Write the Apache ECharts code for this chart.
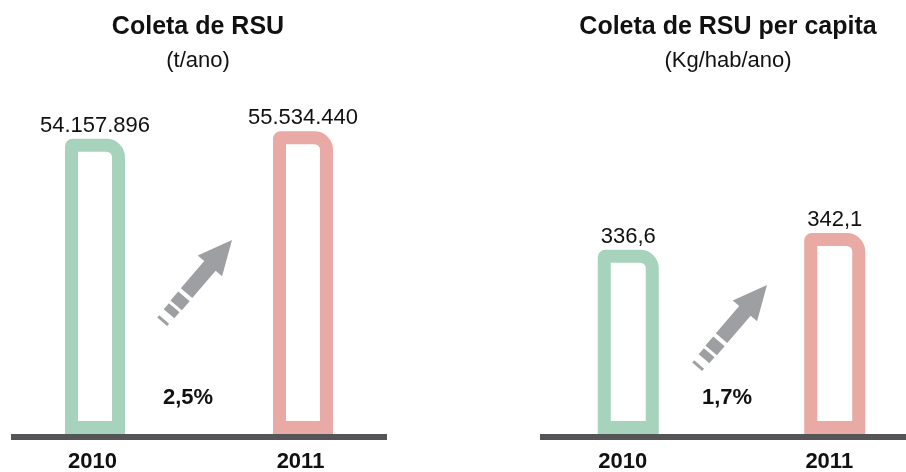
<!DOCTYPE html>
<html>
<head>
<meta charset="utf-8">
<script src="https://cdn.jsdelivr.net/npm/echarts@6/dist/echarts.min.js"></script>
<style>
  html, body { margin: 0; padding: 0; background: #fff; }
  #main { width: 906px; height: 472px; }
</style>
</head>
<body>
<div id="main"></div>
<script>
var categories = ['2010', '2011'];
var coleta = [54157896, 55534440];        // t/ano
var perCapita = [336.6, 342.1];           // Kg/hab/ano
var variacao = ['2,5%', '1,7%'];
var barColors = ['#a7d3bd', '#e9a9a4'];

var font = 'Liberation Sans, Arial, Helvetica, sans-serif';

function fmtInt(v) {
    return String(Math.round(v)).replace(/\B(?=(\d{3})+(?!\d))/g, '.');
}
function fmtDec(v) {
    return v.toFixed(1).replace('.', ',');
}

function barData(values) {
    return values.map(function (v, i) {
        return { value: v, itemStyle: { borderColor: barColors[i] } };
    });
}

// seta cinza com cauda tracejada (desenhada apontando para +x, ponta na origem)
function arrow(x, y, deg) {
    var gray = '#9e9fa2';
    return {
        type: 'group',
        x: x, y: y,
        rotation: deg * Math.PI / 180,
        children: [
            { type: 'polygon', shape: { points: [[0, 0], [-34, -16], [-34, 16]] }, style: { fill: gray } },
            { type: 'rect', shape: { x: -70, y: -7.5, width: 37, height: 15 }, style: { fill: gray } },
            { type: 'rect', shape: { x: -86, y: -7.5, width: 12, height: 15 }, style: { fill: gray } },
            { type: 'rect', shape: { x: -97, y: -7, width: 8, height: 14 }, style: { fill: gray } },
            { type: 'rect', shape: { x: -107.5, y: -6.5, width: 3, height: 13 }, style: { fill: gray } }
        ]
    };
}

var myChart = echarts.init(document.getElementById('main'));
var option = {
    animation: false,
    backgroundColor: '#fff',
    title: [{
        text: 'Coleta de RSU',
        subtext: '(t/ano)',
        left: 198, top: 15, textAlign: 'center', padding: 0, itemGap: 10,
        textStyle: { fontFamily: font, fontSize: 25, fontWeight: 'bold', color: '#111' },
        subtextStyle: { fontFamily: font, fontSize: 22, color: '#111' }
    }, {
        text: 'Coleta de RSU per capita',
        subtext: '(Kg/hab/ano)',
        left: 728, top: 15, textAlign: 'center', padding: 0, itemGap: 10,
        textStyle: { fontFamily: font, fontSize: 25, fontWeight: 'bold', color: '#111' },
        subtextStyle: { fontFamily: font, fontSize: 22, color: '#111' }
    }],
    grid: [
        { left: -9, right: 499, top: 60, bottom: 38, outerBoundsMode: 'none' },
        { left: 525, right: -32, top: 60, bottom: 38, outerBoundsMode: 'none' },
        { left: 11, right: 519, top: 60, bottom: 35, outerBoundsMode: 'none' },
        { left: 540, right: -20, top: 60, bottom: 35, outerBoundsMode: 'none' }
    ],
    xAxis: [
        {
            gridIndex: 0, type: 'category', data: categories,
            axisLine: { show: false }, axisTick: { show: false },
            axisLabel: { margin: 17, padding: [0, 5, 0, 0], fontFamily: font, fontSize: 22, fontWeight: 'bold', color: '#111' }
        },
        {
            gridIndex: 1, type: 'category', data: categories,
            axisLine: { show: false }, axisTick: { show: false },
            axisLabel: { margin: 17, padding: [0, 11, 0, 0], fontFamily: font, fontSize: 22, fontWeight: 'bold', color: '#111' }
        },
        {
            gridIndex: 2, type: 'value',
            axisLine: { show: true, onZero: false, lineStyle: { color: '#555557', width: 6, cap: 'butt' } },
            axisTick: { show: false }, axisLabel: { show: false }, splitLine: { show: false }
        },
        {
            gridIndex: 3, type: 'value',
            axisLine: { show: true, onZero: false, lineStyle: { color: '#555557', width: 6, cap: 'butt' } },
            axisTick: { show: false }, axisLabel: { show: false }, splitLine: { show: false }
        }
    ],
    yAxis: [
        { gridIndex: 0, type: 'value', min: 0, max: 68600000, show: false },
        { gridIndex: 1, type: 'value', min: 276, max: 399, startValue: 276, show: false },
        { gridIndex: 2, type: 'value', show: false },
        { gridIndex: 3, type: 'value', show: false }
    ],
    series: [
        {
            type: 'bar', xAxisIndex: 0, yAxisIndex: 0, barWidth: 60, clip: false,
            data: barData(coleta),
            itemStyle: { color: '#fff', borderWidth: 13, borderRadius: [1, 12, 0, 0] },
            label: {
                show: true, position: 'top', distance: 2,
                fontFamily: font, fontSize: 22, color: '#111',
                formatter: function (p) { return fmtInt(p.value); }
            }
        },
        {
            type: 'bar', xAxisIndex: 1, yAxisIndex: 1, barWidth: 61, clip: false,
            data: barData(perCapita),
            itemStyle: { color: '#fff', borderWidth: 13, borderRadius: [1, 12, 0, 0] },
            label: {
                show: true, position: 'top', distance: 2,
                fontFamily: font, fontSize: 22, color: '#111',
                formatter: function (p) { return fmtDec(p.value); }
            }
        }
    ],
    graphic: [
        arrow(232, 240, 49.5),
        arrow(767, 285, 49.5),
        {
            type: 'text', x: 188, y: 398,
            style: { text: variacao[0], textAlign: 'center', textVerticalAlign: 'middle', font: 'bold 22px ' + font, fill: '#111' }
        },
        {
            type: 'text', x: 727, y: 398,
            style: { text: variacao[1], textAlign: 'center', textVerticalAlign: 'middle', font: 'bold 22px ' + font, fill: '#111' }
        }
    ]
};
myChart.setOption(option);
</script>
</body>
</html>
